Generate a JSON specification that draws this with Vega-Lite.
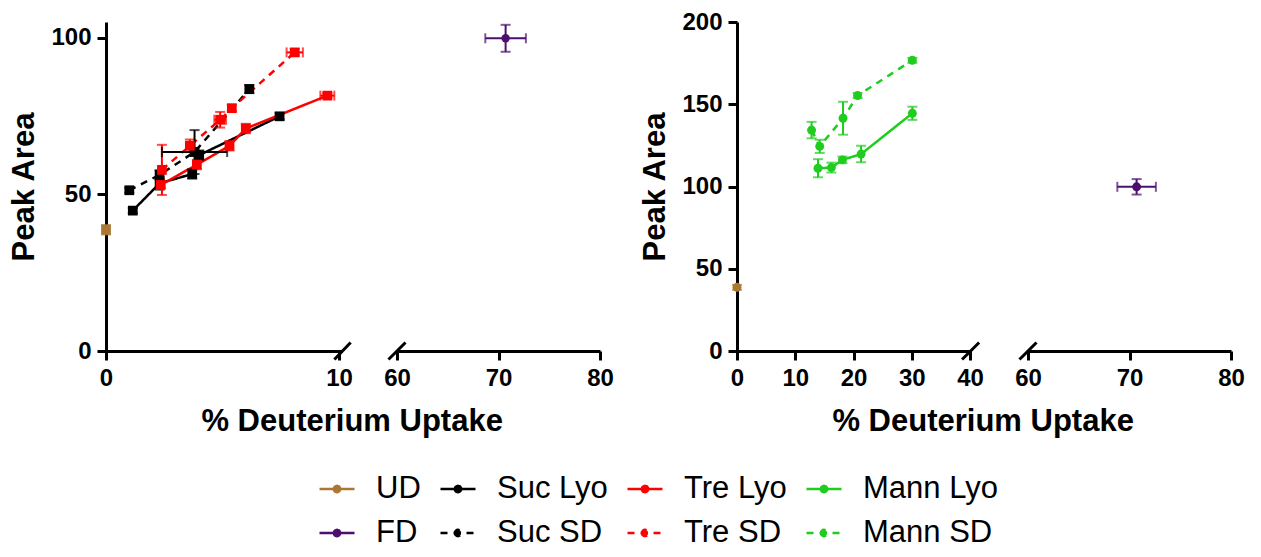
{
  "$schema": "https://vega.github.io/schema/vega-lite/v6.json",
  "background": "white",
  "padding": {"left": 8, "top": 10, "right": 5, "bottom": 5},
  "datasets": {
    "pts": [
      {"panel": "L", "series": "UD", "x": 0, "y": 38.7, "xe": 0, "ye": 1.5},
      {"panel": "L", "series": "FD", "x": 70.7, "y": 99.8, "xe": 2.0, "ye": 4.3},
      {"panel": "L", "series": "Suc Lyo", "x": 1.15, "y": 44.8, "xe": 0, "ye": 0.8},
      {"panel": "L", "series": "Suc Lyo", "x": 2.3, "y": 53.5, "xe": 0, "ye": 2},
      {"panel": "L", "series": "Suc Lyo", "x": 3.7, "y": 56.5, "xe": 0, "ye": 1.5},
      {"panel": "L", "series": "Suc Lyo", "x": 4.0, "y": 62.5, "xe": 0, "ye": 1.5},
      {"panel": "L", "series": "Suc Lyo", "x": 7.45, "y": 74.9, "xe": 0, "ye": 1},
      {"panel": "L", "series": "Suc SD", "x": 1.0, "y": 51.3, "xe": 0, "ye": 0.8},
      {"panel": "L", "series": "Suc SD", "x": 2.3, "y": 56.2, "xe": 0, "ye": 1.5},
      {"panel": "L", "series": "Suc SD", "x": 3.8, "y": 63.5, "xe": 1.4, "ye": 7},
      {"panel": "L", "series": "Suc SD", "x": 6.15, "y": 83.6, "xe": 0, "ye": 1.3},
      {"panel": "L", "series": "Tre Lyo", "x": 2.35, "y": 53.0, "xe": 0, "ye": 1},
      {"panel": "L", "series": "Tre Lyo", "x": 3.9, "y": 59.5, "xe": 0, "ye": 1.5},
      {"panel": "L", "series": "Tre Lyo", "x": 5.3, "y": 65.5, "xe": 0, "ye": 1.5},
      {"panel": "L", "series": "Tre Lyo", "x": 6.0, "y": 71.0, "xe": 0, "ye": 1.5},
      {"panel": "L", "series": "Tre Lyo", "x": 9.5, "y": 81.5, "xe": 0.3, "ye": 0.8},
      {"panel": "L", "series": "Tre SD", "x": 2.4, "y": 57.8, "xe": 0, "ye": 8},
      {"panel": "L", "series": "Tre SD", "x": 3.6, "y": 65.5, "xe": 0, "ye": 2},
      {"panel": "L", "series": "Tre SD", "x": 4.9, "y": 73.8, "xe": 0.25, "ye": 2.5},
      {"panel": "L", "series": "Tre SD", "x": 5.4, "y": 77.5, "xe": 0, "ye": 1},
      {"panel": "L", "series": "Tre SD", "x": 8.1, "y": 95.3, "xe": 0.35, "ye": 1},
      {"panel": "R", "series": "UD", "x": 0, "y": 38.7, "xe": 0, "ye": 1.5},
      {"panel": "R", "series": "FD", "x": 70.7, "y": 99.8, "xe": 1.9, "ye": 4.7},
      {"panel": "R", "series": "Mann Lyo", "x": 13.9, "y": 111.1, "xe": 0, "ye": 5.5},
      {"panel": "R", "series": "Mann Lyo", "x": 16.2, "y": 111.5, "xe": 0, "ye": 3},
      {"panel": "R", "series": "Mann Lyo", "x": 18.1, "y": 116.2, "xe": 0, "ye": 2},
      {"panel": "R", "series": "Mann Lyo", "x": 21.3, "y": 119.7, "xe": 0, "ye": 5},
      {"panel": "R", "series": "Mann Lyo", "x": 30.1, "y": 144.5, "xe": 0, "ye": 4},
      {"panel": "R", "series": "Mann SD", "x": 12.8, "y": 134.3, "xe": 0, "ye": 5},
      {"panel": "R", "series": "Mann SD", "x": 14.2, "y": 124.4, "xe": 0, "ye": 4},
      {"panel": "R", "series": "Mann SD", "x": 18.2, "y": 141.5, "xe": 0, "ye": 10},
      {"panel": "R", "series": "Mann SD", "x": 20.7, "y": 155.3, "xe": 0, "ye": 1.5},
      {"panel": "R", "series": "Mann SD", "x": 30.1, "y": 176.7, "xe": 0, "ye": 1.5}
    ]
  },
  "spacing": 25,
  "hconcat": [
    {
      "title": {"text": "% Deuterium Uptake", "orient": "bottom", "anchor": "middle", "offset": 17, "dx": 41,
                "font": "Liberation Sans", "fontSize": 31, "fontWeight": "bold", "color": "black"},
      "spacing": 30,
      "hconcat": [
        {
          "width": 236.5, "height": 329,
          "layer": [
            {"data": {"name": "pts"}, "transform": [{"filter": "datum.panel == 'L' && datum.x < 11"}],
             "mark": {"type": "line", "strokeWidth": 2.5},
             "encoding": {
               "x": {"field": "x", "type": "quantitative", "title": null,
                 "scale": {"domain": [0, 10.15], "nice": false, "zero": false},
                 "axis": {"values": [0, 10], "title": null}},
               "y": {"field": "y", "type": "quantitative", "title": "Peak Area",
                 "scale": {"domain": [0, 105], "nice": false, "zero": false},
                 "axis": {"values": [0, 50, 100], "title": "Peak Area"}},
               "color": {"field": "series", "type": "nominal",
                 "scale": {"domain": ["UD", "Suc Lyo", "Tre Lyo", "Mann Lyo", "FD", "Suc SD", "Tre SD", "Mann SD"],
                           "range": ["#aa7832", "#000000", "#ff0000", "#1ecd1e", "#4b0f6e", "#000000", "#ff0000", "#1ecd1e"]},
                 "legend": {"encode": {"symbols": {"update": {"fill": {"scale": "color", "field": "value"}}}}}},
               "strokeDash": {"field": "series", "type": "nominal",
                 "scale": {"domain": ["UD", "Suc Lyo", "Tre Lyo", "Mann Lyo", "FD", "Suc SD", "Tre SD", "Mann SD"],
                           "range": [[1, 0], [1, 0], [1, 0], [1, 0], [1, 0], [7, 6], [7, 6], [7, 6]]}}
             }},
            {"data": {"name": "pts"}, "transform": [{"filter": "datum.panel == 'L' && datum.x < 11 && datum.ye > 0"}],
             "mark": {"type": "errorbar", "ticks": true, "thickness": 2, "size": 10},
             "encoding": {"x": {"field": "x", "type": "quantitative", "title": null}, "y": {"field": "y", "type": "quantitative", "title": "Peak Area"},
               "yError": {"field": "ye"}, "color": {"field": "series", "type": "nominal"}}},
            {"data": {"name": "pts"}, "transform": [{"filter": "datum.panel == 'L' && datum.x < 11 && datum.xe > 0"}],
             "mark": {"type": "errorbar", "ticks": true, "thickness": 2, "size": 10},
             "encoding": {"x": {"field": "x", "type": "quantitative", "title": null}, "y": {"field": "y", "type": "quantitative", "title": "Peak Area"},
               "xError": {"field": "xe"}, "color": {"field": "series", "type": "nominal"}}},
            {"data": {"name": "pts"}, "transform": [{"filter": "datum.panel == 'L' && datum.x < 11"}],
             "mark": {"type": "point", "shape": "square", "filled": true, "opacity": 1, "size": 95},
             "encoding": {"x": {"field": "x", "type": "quantitative", "title": null}, "y": {"field": "y", "type": "quantitative", "title": "Peak Area"},
               "color": {"field": "series", "type": "nominal"}}},
            {"data": {"values": [{"k": 0}]}, "mark": {"type": "rule", "strokeWidth": 3, "color": "black"},
             "encoding": {"x": {"datum": 9.8, "type": "quantitative", "title": null}, "x2": {"datum": 10.5},
               "y": {"datum": -2.7, "type": "quantitative", "title": "Peak Area"}, "y2": {"datum": 2.7}}}
          ]
        },
        {
          "width": 203, "height": 329,
          "layer": [
            {"data": {"name": "pts"}, "transform": [{"filter": "datum.panel == 'L' && datum.x > 59 && datum.ye > 0"}],
             "mark": {"type": "errorbar", "ticks": true, "thickness": 2, "size": 10},
             "encoding": {
               "x": {"field": "x", "type": "quantitative",
                 "scale": {"domain": [60, 80], "nice": false, "zero": false},
                 "axis": {"values": [60, 70, 80], "title": null}},
               "y": {"field": "y", "type": "quantitative",
                 "scale": {"domain": [0, 105], "nice": false, "zero": false}, "axis": null},
               "yError": {"field": "ye"}, "color": {"field": "series", "type": "nominal"}}},
            {"data": {"name": "pts"}, "transform": [{"filter": "datum.panel == 'L' && datum.x > 59 && datum.xe > 0"}],
             "mark": {"type": "errorbar", "ticks": true, "thickness": 2, "size": 10},
             "encoding": {"x": {"field": "x", "type": "quantitative"}, "y": {"field": "y", "type": "quantitative"},
               "xError": {"field": "xe"}, "color": {"field": "series", "type": "nominal"}}},
            {"data": {"name": "pts"}, "transform": [{"filter": "datum.panel == 'L' && datum.x > 59"}],
             "mark": {"type": "point", "shape": "circle", "filled": true, "opacity": 1, "size": 70},
             "encoding": {"x": {"field": "x", "type": "quantitative"}, "y": {"field": "y", "type": "quantitative"},
               "color": {"field": "series", "type": "nominal"}}},
            {"data": {"values": [{"k": 0}]}, "mark": {"type": "rule", "strokeWidth": 3, "color": "black"},
             "encoding": {"x": {"datum": 59.16, "type": "quantitative"}, "x2": {"datum": 60.84},
               "y": {"datum": -2.7, "type": "quantitative"}, "y2": {"datum": 2.7}}}
          ]
        }
      ]
    },
    {
      "title": {"text": "% Deuterium Uptake", "orient": "bottom", "anchor": "middle", "offset": 17, "dx": 41,
                "font": "Liberation Sans", "fontSize": 31, "fontWeight": "bold", "color": "black"},
      "spacing": 30,
      "hconcat": [
        {
          "width": 233.6, "height": 329,
          "layer": [
            {"data": {"name": "pts"}, "transform": [{"filter": "datum.panel == 'R' && datum.x < 41"}],
             "mark": {"type": "line", "strokeWidth": 2.5},
             "encoding": {
               "x": {"field": "x", "type": "quantitative", "title": null,
                 "scale": {"domain": [0, 40.1], "nice": false, "zero": false},
                 "axis": {"values": [0, 10, 20, 30, 40], "title": null}},
               "y": {"field": "y", "type": "quantitative", "title": "Peak Area",
                 "scale": {"domain": [0, 200], "nice": false, "zero": false},
                 "axis": {"values": [0, 50, 100, 150, 200], "title": "Peak Area"}},
               "color": {"field": "series", "type": "nominal"},
               "strokeDash": {"field": "series", "type": "nominal"}
             }},
            {"data": {"name": "pts"}, "transform": [{"filter": "datum.panel == 'R' && datum.x < 41 && datum.ye > 0"}],
             "mark": {"type": "errorbar", "ticks": true, "thickness": 2, "size": 10},
             "encoding": {"x": {"field": "x", "type": "quantitative", "title": null}, "y": {"field": "y", "type": "quantitative", "title": "Peak Area"},
               "yError": {"field": "ye"}, "color": {"field": "series", "type": "nominal"}}},
            {"data": {"name": "pts"}, "transform": [{"filter": "datum.panel == 'R' && datum.x < 41"}],
             "mark": {"type": "point", "shape": "circle", "filled": true, "opacity": 1, "size": 80},
             "encoding": {"x": {"field": "x", "type": "quantitative", "title": null}, "y": {"field": "y", "type": "quantitative", "title": "Peak Area"},
               "color": {"field": "series", "type": "nominal"}}},
            {"data": {"values": [{"k": 0}]}, "mark": {"type": "rule", "strokeWidth": 3, "color": "black"},
             "encoding": {"x": {"datum": 38.64, "type": "quantitative", "title": null}, "x2": {"datum": 41.56},
               "y": {"datum": -5.2, "type": "quantitative", "title": "Peak Area"}, "y2": {"datum": 5.2}}}
          ]
        },
        {
          "width": 203, "height": 329,
          "layer": [
            {"data": {"name": "pts"}, "transform": [{"filter": "datum.panel == 'R' && datum.x > 59 && datum.ye > 0"}],
             "mark": {"type": "errorbar", "ticks": true, "thickness": 2, "size": 10},
             "encoding": {
               "x": {"field": "x", "type": "quantitative",
                 "scale": {"domain": [60, 80], "nice": false, "zero": false},
                 "axis": {"values": [60, 70, 80], "title": null}},
               "y": {"field": "y", "type": "quantitative",
                 "scale": {"domain": [0, 200], "nice": false, "zero": false}, "axis": null},
               "yError": {"field": "ye"}, "color": {"field": "series", "type": "nominal"}}},
            {"data": {"name": "pts"}, "transform": [{"filter": "datum.panel == 'R' && datum.x > 59 && datum.xe > 0"}],
             "mark": {"type": "errorbar", "ticks": true, "thickness": 2, "size": 10},
             "encoding": {"x": {"field": "x", "type": "quantitative"}, "y": {"field": "y", "type": "quantitative"},
               "xError": {"field": "xe"}, "color": {"field": "series", "type": "nominal"}}},
            {"data": {"name": "pts"}, "transform": [{"filter": "datum.panel == 'R' && datum.x > 59"}],
             "mark": {"type": "point", "shape": "circle", "filled": true, "opacity": 1, "size": 80},
             "encoding": {"x": {"field": "x", "type": "quantitative"}, "y": {"field": "y", "type": "quantitative"},
               "color": {"field": "series", "type": "nominal"}}},
            {"data": {"values": [{"k": 0}]}, "mark": {"type": "rule", "strokeWidth": 3, "color": "black"},
             "encoding": {"x": {"datum": 59.16, "type": "quantitative"}, "x2": {"datum": 60.84},
               "y": {"datum": -5.2, "type": "quantitative"}, "y2": {"datum": 5.2}}}
          ]
        }
      ]
    }
  ],
  "resolve": {"scale": {"color": "shared", "strokeDash": "shared"}},
  "config": {
    "view": {"stroke": null},
    "axis": {
      "grid": false,
      "domainColor": "black", "domainWidth": 3,
      "tickColor": "black", "tickWidth": 3, "tickSize": 9,
      "labelFont": "Liberation Sans", "labelFontSize": 24, "labelFontWeight": "bold", "labelColor": "black",
      "labelPadding": 6,
      "titleFont": "Liberation Sans", "titleFontSize": 31, "titleFontWeight": "bold", "titleColor": "black"
    },
    "axisX": {"labelFlush": false},
    "axisY": {"titlePadding": 10},
    "legend": {
      "orient": "none", "legendX": 212, "legendY": 448,
      "direction": "horizontal", "columns": 4, "title": null,
      "labelFont": "Liberation Sans", "labelFontSize": 31, "labelColor": "black",
      "symbolType": "M-1,0L1,0M-0.18,0A0.18,0.18,0,1,0,0.18,0A0.18,0.18,0,1,0,-0.18,0",
      "symbolSize": 1225, "symbolStrokeWidth": 2.5,
      "labelOffset": 20, "columnPadding": 14, "rowPadding": 10
    }
  }
}
